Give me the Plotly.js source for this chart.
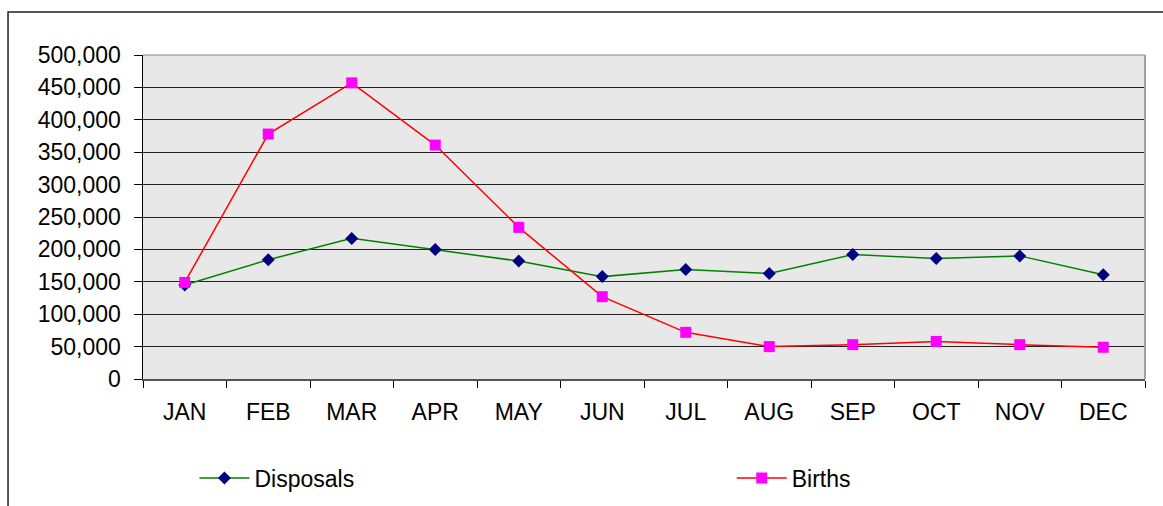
<!DOCTYPE html>
<html>
<head>
<meta charset="utf-8">
<script src="https://cdn.plot.ly/plotly-3.0.1.min.js"></script>
<style>
  html, body { margin: 0; padding: 0; background: #ffffff; }
  #chart { width: 1163px; height: 506px; }
</style>
</head>
<body>
<div id="chart"></div>
<script>
const months = ["JAN","FEB","MAR","APR","MAY","JUN","JUL","AUG","SEP","OCT","NOV","DEC"];
const disposals = [145000, 184000, 217000, 200000, 182000, 158000, 169000, 163000, 192000, 186000, 190000, 161000];
const births = [149000, 378000, 457000, 361000, 234000, 127000, 72000, 50000, 53000, 58000, 53000, 49000];
const seriesNames = ["Disposals", "Births"];

const fontFamily = '"Liberation Sans", Arial, sans-serif';

const traces = [
  {
    x: months, y: disposals, name: seriesNames[0], type: 'scatter', mode: 'lines+markers',
    legend: 'legend',
    line: { color: '#008000', width: 1.5 },
    marker: { symbol: 'diamond', size: 10, color: '#000080', line: { width: 0 } }
  },
  {
    x: months, y: births, name: seriesNames[1], type: 'scatter', mode: 'lines+markers',
    legend: 'legend2',
    line: { color: '#FF0000', width: 1.5 },
    marker: { symbol: 'square', size: 11, color: '#FF00FF', line: { width: 0 } }
  }
];

const legendBase = {
  orientation: 'h',
  xref: 'container', yref: 'container',
  xanchor: 'left',
  y: 0.0553, yanchor: 'middle',
  itemwidth: 50,
  font: { family: fontFamily, size: 23, color: '#000000' },
  bgcolor: 'rgba(0,0,0,0)'
};

const layout = {
  width: 1163, height: 506,
  margin: { l: 143, r: 18, t: 55, b: 127, pad: 0 },
  paper_bgcolor: '#ffffff',
  plot_bgcolor: '#E8E8E8',
  font: { family: fontFamily, size: 23, color: '#000000' },
  showlegend: true,
  legend: Object.assign({}, legendBase, { x: 0.1672 }),
  legend2: Object.assign({}, legendBase, { x: 0.6292 }),
  xaxis: {
    type: 'category',
    range: [-0.5, 11.5],
    tickson: 'boundaries',
    ticks: 'outside', ticklen: 7, tickwidth: 1, tickcolor: '#000000',
    showline: true, linecolor: '#555555', linewidth: 1.5,
    showgrid: false, zeroline: false,
    automargin: false,
    tickfont: { family: fontFamily, size: 23, color: '#000000' },
    ticklabelstandoff: 12,
    fixedrange: true
  },
  yaxis: {
    range: [0, 500000],
    dtick: 50000, tick0: 0,
    tickformat: ',d',
    ticks: 'outside', ticklen: 8, tickwidth: 1, tickcolor: '#000000',
    showline: true, linecolor: '#000000', linewidth: 1.5,
    showgrid: true, gridcolor: '#222222', gridwidth: 1,
    zeroline: false,
    automargin: false,
    tickfont: { family: fontFamily, size: 23, color: '#000000' },
    ticklabelstandoff: 8,
    fixedrange: true
  },
  shapes: [
    {
      type: 'rect', xref: 'paper', yref: 'paper',
      x0: -0.1347, x1: 1.06, y0: -0.7, y1: 1.1327,
      line: { color: '#222222', width: 1.5 }, fillcolor: 'rgba(0,0,0,0)', layer: 'below'
    },
    {
      type: 'line', xref: 'paper', yref: 'paper',
      x0: 0, x1: 1, y0: 1, y1: 1,
      line: { color: '#A8A8A8', width: 1.5 }, layer: 'above'
    },
    {
      type: 'line', xref: 'paper', yref: 'paper',
      x0: 1, x1: 1, y0: 0, y1: 1,
      line: { color: '#A0A0A0', width: 2 }, layer: 'above'
    }
  ]
};

Plotly.newPlot('chart', traces, layout, { displayModeBar: false, staticPlot: true });
</script>
</body>
</html>
